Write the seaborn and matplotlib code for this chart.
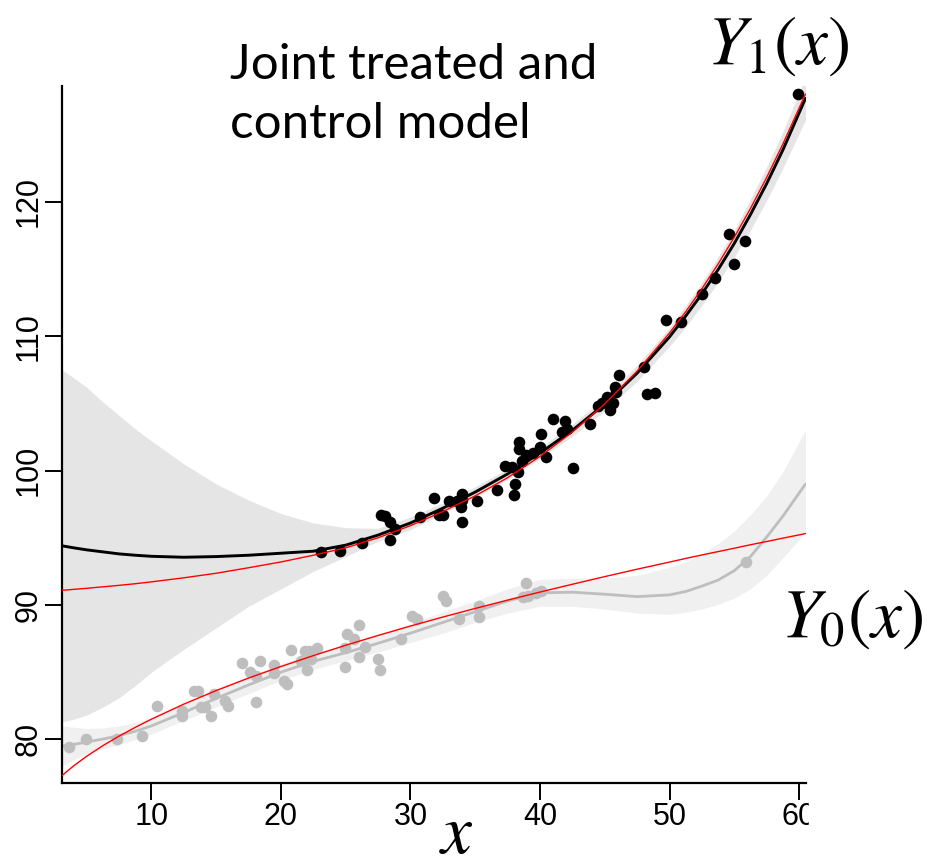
import matplotlib
matplotlib.use("Agg")
import matplotlib.pyplot as plt
import seaborn as sns
import pandas as pd
from matplotlib.patches import Rectangle

# ---------------- data ----------------
treated_x = [23.07, 24.56, 26.25, 27.70, 28.05, 28.42, 28.78, 28.42, 30.73, 31.81,
             32.22, 32.49, 32.95, 33.57, 33.98, 33.98, 33.92, 33.98, 35.11, 36.70,
             37.99, 38.09, 37.32, 37.84, 38.30, 38.35, 38.40, 38.61, 38.92, 39.48,
             40.00, 40.10, 40.46, 41.03, 41.70, 41.91, 42.11, 42.53, 43.86, 44.48,
             44.79, 45.15, 45.41, 45.61, 45.81, 45.87, 46.12, 48.03, 48.29, 48.90,
             49.73, 50.91, 52.53, 53.49, 54.62, 55.00, 55.85, 59.92]
treated_y = [93.92, 94.00, 94.64, 96.72, 96.63, 96.18, 95.64, 94.82, 96.55, 97.97,
             96.68, 96.68, 97.77, 97.77, 98.27, 97.82, 97.27, 96.18, 97.77, 98.56,
             98.21, 98.99, 100.35, 100.30, 99.90, 102.14, 101.59, 100.74, 101.15, 101.30,
             101.79, 102.73, 100.99, 103.87, 102.88, 103.68, 103.08, 100.20, 103.48, 104.82,
             105.06, 105.51, 104.52, 105.06, 106.21, 105.86, 107.15, 107.70, 105.71, 105.81,
             111.22, 111.02, 113.13, 114.30, 117.63, 115.34, 117.08, 128.05]

control_x = [3.61, 4.94, 7.36, 9.27, 10.40, 12.36, 12.36, 13.28, 13.59, 13.85,
             14.15, 14.62, 14.83, 15.70, 15.91, 16.99, 17.61, 18.07, 18.07, 18.38,
             19.46, 19.46, 20.23, 20.49, 20.80, 21.57, 21.88, 22.14, 21.98, 22.29,
             22.80, 24.92, 24.97, 25.12, 25.64, 26.00, 26.05, 26.51, 27.49, 27.64,
             29.29, 30.12, 30.48, 32.49, 32.74, 33.72, 35.27, 35.31, 38.71, 38.92,
             39.07, 39.69, 40.10, 55.91]
control_y = [79.45, 80.04, 80.04, 80.27, 82.48, 82.08, 81.73, 83.60, 83.60, 82.43,
             82.43, 81.73, 83.37, 82.87, 82.48, 85.70, 85.01, 84.71, 82.78, 85.81,
             85.53, 84.94, 84.36, 84.12, 86.65, 85.85, 86.55, 86.55, 85.16, 86.00,
             86.80, 86.80, 85.41, 87.84, 87.45, 86.15, 88.49, 86.85, 85.96, 85.16,
             87.45, 89.18, 88.98, 90.67, 90.32, 88.94, 89.93, 89.08, 90.57, 91.66,
             90.67, 90.92, 91.02, 93.18]

grid_x = [3.1, 4, 5, 6.25, 7.5, 8.75, 10, 12.5, 15, 17.5, 20, 22.5, 25, 27.5, 30,
          32.5, 35, 37.5, 40, 42.5, 45, 47.5, 50, 51.25, 52.5, 53.75, 55, 56.25,
          57.5, 58.75, 60.5]

# true (red) curves
true_treated = [91.09, 91.16, 91.24, 91.35, 91.46, 91.58, 91.72, 92.02, 92.36, 92.77,
                93.2, 93.7, 94.25, 95.0, 95.9, 96.95, 98.12, 99.47, 101.05, 102.86,
                104.96, 107.40, 110.24, 111.82, 113.53, 115.37, 117.36, 119.50, 121.81,
                124.29, 128.02]
true_control = [77.31, 78.03, 78.74, 79.53, 80.24, 80.89, 81.50, 82.62, 83.63, 84.56,
                85.42, 86.23, 87.00, 87.73, 88.43, 89.10, 89.74, 90.36, 90.96, 91.54,
                92.11, 92.66, 93.19, 93.46, 93.72, 93.97, 94.22, 94.48, 94.72, 94.97,
                95.31]

# fitted curves with their bands
fit_treated = [94.4, 94.25, 94.1, 93.95, 93.8, 93.7, 93.62, 93.55, 93.6, 93.7,
               93.85, 94.0, 94.45, 95.2, 96.1, 97.2, 98.4, 99.75, 101.3, 103.0,
               104.95, 107.25, 109.95, 111.5, 113.15, 114.95, 116.9, 119.05, 121.35,
               123.85, 127.7]
fit_treated_lo = [81.3, 81.5, 81.8, 82.4, 83.1, 84.0, 85.0, 86.7, 88.3, 89.9,
                  91.2, 92.5, 93.6, 94.75, 95.6, 96.8, 98.0, 99.35, 100.9, 102.55,
                  104.45, 106.65, 109.25, 110.7, 112.3, 114.0, 115.9, 117.9, 120.1,
                  122.5, 126.1]
fit_treated_hi = [107.5, 106.9, 106.2, 105.1, 104.1, 103.1, 102.2, 100.5, 99.0, 97.8,
                  96.8, 96.1, 95.75, 95.7, 96.55, 97.6, 98.8, 100.15, 101.7, 103.45,
                  105.45, 107.85, 110.65, 112.3, 114.0, 115.9, 117.9, 120.2, 122.6,
                  125.2, 129.3]

fit_control = [79.48, 79.62, 79.8, 80.02, 80.28, 80.6, 81.0, 82.0, 83.05, 84.05,
               85.0, 85.8, 86.45, 87.15, 87.9, 88.7, 89.5, 90.3, 90.9, 90.95,
               90.8, 90.62, 90.75, 91.0, 91.4, 91.85, 92.55, 93.6, 95.05, 96.6,
               99.0]
fit_control_lo = [78.0, 78.5, 78.9, 79.3, 79.6, 80.0, 80.4, 81.4, 82.4, 83.4,
                  84.4, 85.2, 85.85, 86.5, 87.2, 87.9, 88.7, 89.4, 89.9, 89.9,
                  89.7, 89.4, 89.3, 89.45, 89.7, 90.05, 90.5, 91.2, 92.2, 93.5,
                  95.4]
fit_control_hi = [81.0, 80.9, 80.8, 80.85, 81.0, 81.25, 81.6, 82.6, 83.7, 84.7,
                  85.6, 86.4, 87.05, 87.8, 88.6, 89.5, 90.3, 91.2, 91.9, 92.0,
                  92.0, 92.2, 92.8, 93.2, 93.8, 94.55, 95.5, 96.7, 98.1, 99.9,
                  103.0]

x_ticks = [10, 20, 30, 40, 50, 60]
y_ticks = [80, 90, 100, 110, 120]

# ---------------- drawing ----------------
sns.set_theme(style="ticks")
plt.rcParams["font.family"] = ["Liberation Sans", "DejaVu Sans"]
plt.rcParams["mathtext.fontset"] = "stix"
plt.rcParams["text.color"] = "black"

fig = plt.figure(figsize=(9.39, 8.68), dpi=100)
ax = fig.add_axes([62 / 939, 85 / 868, 744 / 939, 697 / 868])

curves = pd.DataFrame({"x": grid_x, "tt": true_treated, "tc": true_control,
                       "ft": fit_treated, "fc": fit_control})
pts_t = pd.DataFrame({"x": treated_x, "y": treated_y})
pts_c = pd.DataFrame({"x": control_x, "y": control_y})

ax.fill_between(grid_x, fit_treated_lo, fit_treated_hi, color="#e5e5e5", lw=0, zorder=1)
ax.fill_between(grid_x, fit_control_lo, fit_control_hi, color="#f0f0f0", lw=0, zorder=1.1)

sns.lineplot(data=curves, x="x", y="fc", color="#bebebe", lw=2.0, sort=False,
             estimator=None, ax=ax, zorder=2)
sns.scatterplot(data=pts_c, x="x", y="y", color="#bebebe", s=70, linewidth=0,
                ax=ax, zorder=3)
sns.scatterplot(data=pts_t, x="x", y="y", color="black", s=70, linewidth=0,
                ax=ax, zorder=3)
sns.lineplot(data=curves, x="x", y="ft", color="black", lw=2.1, sort=False,
             estimator=None, ax=ax, zorder=4)
sns.lineplot(data=curves, x="x", y="tt", color="#ff0000", lw=1.0, sort=False,
             estimator=None, ax=ax, zorder=5)
sns.lineplot(data=curves, x="x", y="tc", color="#ff0000", lw=1.0, sort=False,
             estimator=None, ax=ax, zorder=5)

ax.set_xlim(3.09, 60.54)
ax.set_ylim(76.75, 128.62)
ax.set_xticks(x_ticks)
ax.set_yticks(y_ticks)
ax.set_xlabel("")
ax.set_ylabel("")
sns.despine(ax=ax)
for s in ("left", "bottom"):
    ax.spines[s].set_linewidth(1.6)
    ax.spines[s].set_color("black")
ax.tick_params(axis="both", length=12.5, width=1.4, colors="black",
               labelcolor="black", labelsize=22, pad=1)
for lbl in ax.get_yticklabels():
    lbl.set_rotation(90)
    lbl.set_va("center")

# texts
fig.text(230 / 939, 1 - 138 / 868, "Joint treated and\ncontrol model",
         fontsize=35.5, family=["Lato", "DejaVu Sans"], color="black",
         ha="left", va="baseline", linespacing=1.43)
fig.text(707 / 939, 1 - 64 / 868, r"$Y_1(x)$", fontsize=50, color="black",
         ha="left", va="baseline")
fig.text(781 / 939, 1 - 637 / 868, r"$Y_0(x)$", fontsize=50, color="black",
         ha="left", va="baseline")
fig.text(439 / 939, 1 / 868, r"$x$", fontsize=50, color="black",
         ha="left", va="bottom")

# the reference is cropped just after the last tick label
fig.add_artist(Rectangle((809 / 939, 0), 0.2, 70 / 868, transform=fig.transFigure,
                         color="white", zorder=10))

fig.savefig("out.png", dpi=100)
